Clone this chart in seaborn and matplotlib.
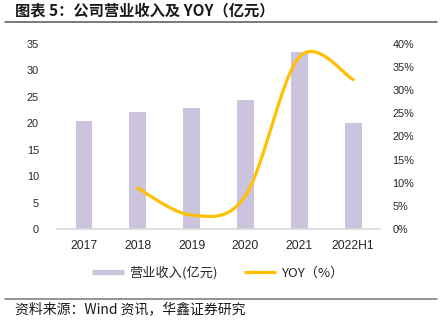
import numpy as np
import matplotlib
matplotlib.use("Agg")
import matplotlib.pyplot as plt
from matplotlib.lines import Line2D
import seaborn as sns

# Data
years = ["2017", "2018", "2019", "2020", "2021", "2022H1"]
revenue = [20.4, 22.2, 22.8, 24.5, 33.5, 20.0]          # 营业收入（亿元）
yoy = [np.nan, 8.8, 3.0, 7.2, 37.2, 32.3]                 # YOY（%）
left_ticks = [0, 5, 10, 15, 20, 25, 30, 35]
right_ticks = [0, 5, 10, 15, 20, 25, 30, 35, 40]

BAR_COLOR = "#CCC3DD"
LINE_COLOR = "#FFC000"
TEXT_COLOR = "#262626"

sns.set_theme(style="white")
plt.rcParams["font.family"] = ["Liberation Sans", "Noto Sans CJK SC", "DejaVu Sans"]
CJK = ["Noto Sans CJK SC", "DejaVu Sans"]


def smooth_curve(xv, yv, n=40):
    """Catmull-Rom style Bezier smoothing through the given points."""
    p = np.column_stack([xv, yv])
    pts = []
    for i in range(len(p) - 1):
        p0 = p[i - 1] if i > 0 else p[i]
        p1, p2 = p[i], p[i + 1]
        p3 = p[i + 2] if i + 2 < len(p) else p[i + 1]
        c1 = p1 + (p2 - p0) / 6.0
        c2 = p2 - (p3 - p1) / 6.0
        t = np.linspace(0, 1, n)[:, None]
        seg = ((1 - t) ** 3) * p1 + 3 * ((1 - t) ** 2) * t * c1 \
            + 3 * (1 - t) * t ** 2 * c2 + t ** 3 * p2
        pts.append(seg if i == 0 else seg[1:])
    pts = np.vstack(pts)
    return pts[:, 0], pts[:, 1]


fig = plt.figure(figsize=(4.42, 3.25), dpi=100)
ax = fig.add_axes([0.129, 0.2954, 0.731, 0.5692])

sns.barplot(x=years, y=revenue, color=BAR_COLOR, width=0.31, ax=ax,
            saturation=1, edgecolor="none")
ax.set_xlim(-0.5, len(years) - 0.5)
ax.set_ylim(0, 35)
ax.set_yticks(left_ticks)
ax.set_yticklabels([str(v) for v in left_ticks])
ax.set_xlabel("")
ax.set_ylabel("")

ax2 = ax.twinx()
idx = [i for i, v in enumerate(yoy) if not np.isnan(v)]
sx, sy = smooth_curve(np.array(idx, float), np.array([yoy[i] for i in idx]))
sns.lineplot(x=sx, y=sy, sort=False, estimator=None, ax=ax2,
             color=LINE_COLOR, linewidth=2.3)
ax2.set_ylim(0, 40)
ax2.set_yticks(right_ticks)
ax2.set_yticklabels([f"{v}%" for v in right_ticks])
ax2.set_xlim(-0.5, len(years) - 0.5)

for a in (ax, ax2):
    for s in ("top", "left", "right"):
        a.spines[s].set_visible(False)
    a.spines["bottom"].set_color("#D9D9D9")
    a.spines["bottom"].set_linewidth(1.2)
    a.tick_params(length=0, colors=TEXT_COLOR)
ax2.spines["bottom"].set_visible(False)
ax.tick_params(axis="x", labelsize=8.7, pad=8)
ax.tick_params(axis="y", labelsize=7.8, pad=13)
ax2.tick_params(axis="y", labelsize=7.8, pad=9)

# Legend
handles = [Line2D([], [], color=BAR_COLOR, linewidth=3.8, solid_capstyle="butt"),
           Line2D([], [], color=LINE_COLOR, linewidth=2.3, solid_capstyle="butt")]
leg = fig.legend(handles, ["营业收入(亿元)", "YOY（%）"], loc="center",
                 bbox_to_anchor=(0.493, 1 - 273 / 325), ncol=2, frameon=False,
                 prop={"family": CJK, "size": 9.5}, handlelength=2.4,
                 handletextpad=0.4, columnspacing=2.0, labelcolor=TEXT_COLOR)

# Header and footer
fig.text(15 / 442, 1 - 10 / 325, "图表 5：公司营业收入及 YOY（亿元）",
         family=CJK, fontsize=11, fontweight="bold", color="#1a1a1a",
         ha="left", va="center")
fig.add_artist(Line2D([5 / 442, 437 / 442], [1 - 21.7 / 325] * 2,
                      color="#555555", linewidth=1.1))
fig.add_artist(Line2D([5 / 442, 437 / 442], [1 - 299 / 325] * 2,
                      color="#777777", linewidth=1.1))
fig.text(15 / 442, 1 - 309 / 325, "资料来源：Wind 资讯，华鑫证券研究",
         family=CJK, fontsize=10, color="#1a1a1a", ha="left", va="center")

fig.savefig("out.png", dpi=100)
